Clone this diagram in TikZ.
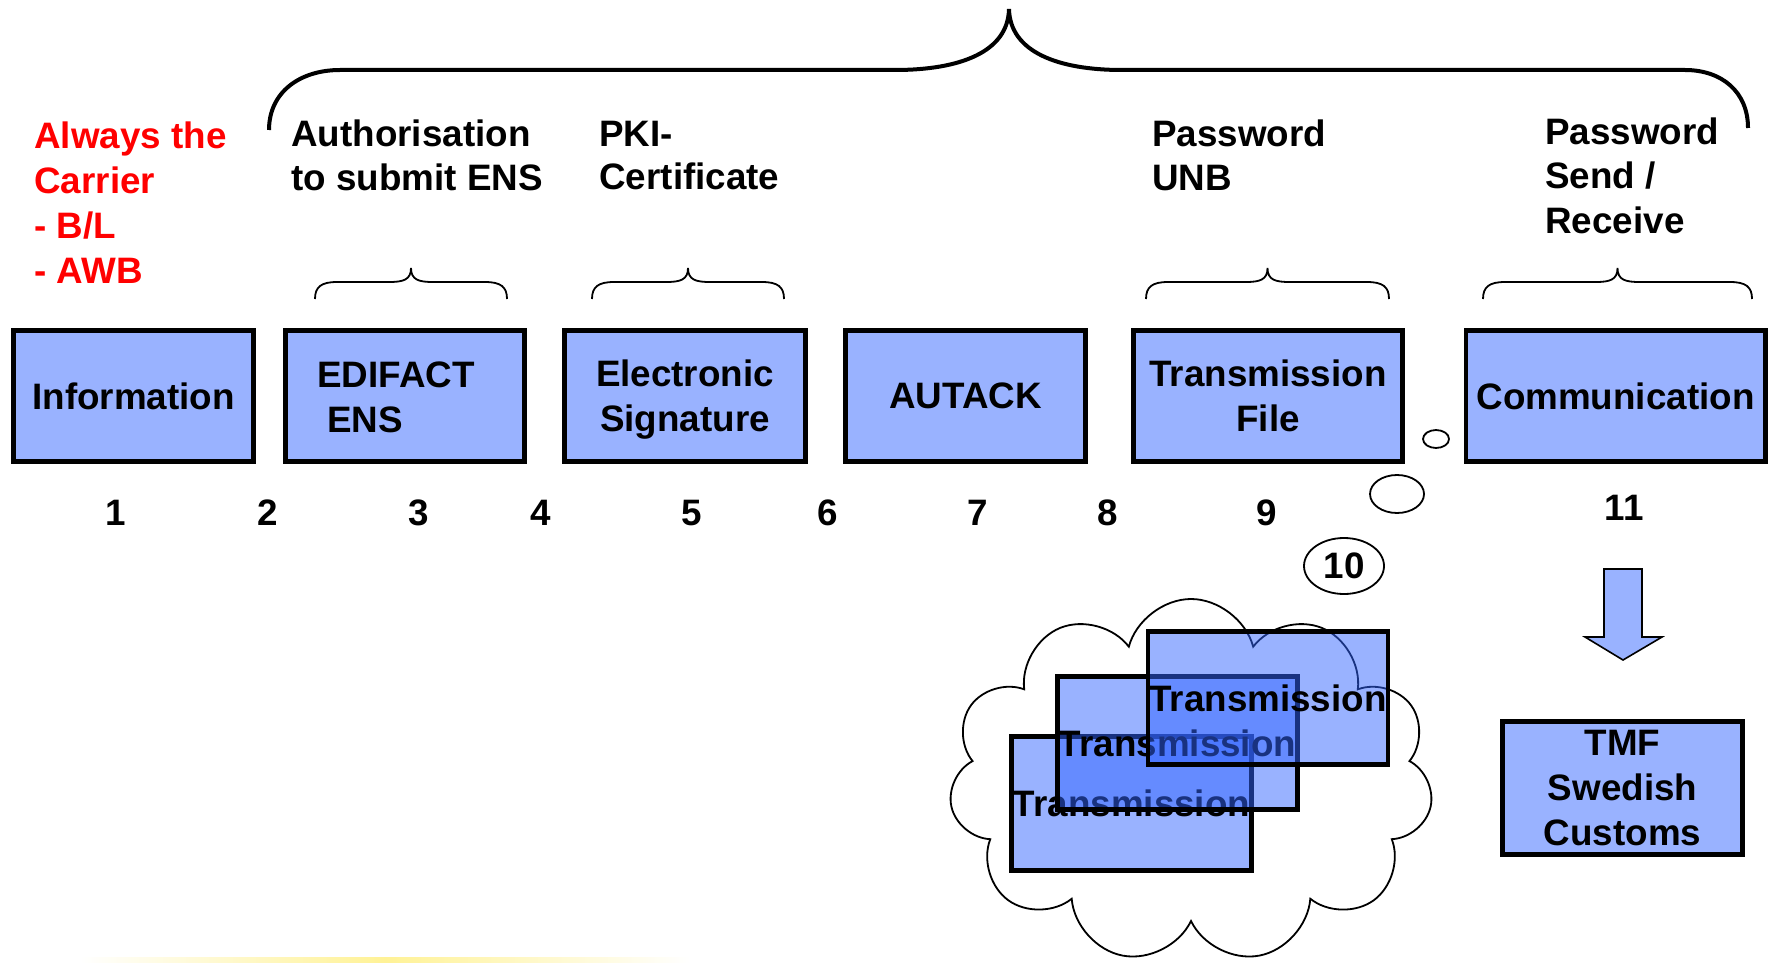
\documentclass[tikz,border=0pt]{standalone}
\usepackage{fontspec}
\setmainfont{Liberation Sans}
\usetikzlibrary{shapes.symbols,shapes.geometric}
\definecolor{boxblue}{RGB}{153,178,255}
\definecolor{transblue}{RGB}{51,101,255}
\definecolor{pptred}{RGB}{255,0,0}
\definecolor{softyellow}{RGB}{255,242,150}
\begin{document}
\begin{tikzpicture}[x=0.5pt,y=-0.5pt,
  every node/.style={font=\fontsize{18.4}{22.5}\selectfont\bfseries, inner sep=0pt},
  stepbox/.style={draw=black, line width=2.3pt, fill=boxblue, minimum height=65.75pt, align=center},
  tbox/.style={draw=black, line width=2.3pt, fill=transblue, fill opacity=0.5, draw opacity=1, text opacity=1, minimum width=120pt, minimum height=66.75pt},
  toplabel/.style={anchor=west, align=left, font=\fontsize{18.4}{21.7}\selectfont\bfseries},
  numlabel/.style={anchor=center},
  bigbrace/.style={line width=2pt},
  thinbrace/.style={line width=0.9pt},
  bubble/.style={draw=black, line width=0.9pt, ellipse},
]
\useasboundingbox (0,0) rectangle (1771,963);

% faint yellow line at bottom
\shade[left color=white, right color=white, middle color=softyellow] (80,957) rectangle (690,963);

% big brace
\draw[bigbrace] (269,130) .. controls (269,92) and (300,70) .. (340,70) -- (895,70)
  .. controls (960,70) and (1008,52) .. (1009,9)
  .. controls (1010,52) and (1058,70) .. (1122,70) -- (1685,70)
  .. controls (1722,70) and (1748,92) .. (1748,128);

% small braces
\foreach \l/\r in {315/507, 592/784, 1146/1389, 1483/1752} {
  \pgfmathsetmacro\m{(\l+\r)/2}
  \draw[thinbrace] (\l,299) .. controls (\l,287) and (\l+6,282) .. (\l+22,282) -- (\m-22,282)
    .. controls (\m-8,282) and (\m,280) .. (\m,268)
    .. controls (\m,280) and (\m+8,282) .. (\m+22,282) -- (\r-22,282)
    .. controls (\r-6,282) and (\r,287) .. (\r,299);
}

% red text
\node[toplabel, text=pptred, font=\fontsize{18.4}{22.5}\selectfont\bfseries] (carrier) at (34,203) {Always the\\Carrier\\- B/L\\- AWB};

% top labels
\node[toplabel] (auth) at (291,155.5) {Authorisation\\to submit ENS};
\node[toplabel] (pki) at (599,155.5) {PKI-\\Certificate};
\node[toplabel] (pwunb) at (1152,155.5) {Password\\UNB};
\node[toplabel, font=\fontsize{18.4}{22.3}\selectfont\bfseries] (pwsend) at (1545,175.5) {Password\\Send /\\Receive};

% step boxes
\node[stepbox, minimum width=120.2pt] (info) at (133.5,396) {Information};
\node[stepbox, minimum width=119.7pt] (edi) at (405,396) {};
\node[anchor=west, align=left] (editext) at (317,397) {EDIFACT\\\hspace*{5pt}ENS};
\node[stepbox, minimum width=120.7pt] (esig) at (685,396) {};
\node[align=center] (esigtext) at (685,399.5) {Electronic\\Signature};
\node[stepbox, minimum width=120.2pt] (autack) at (965.5,396) {AUTACK};
\node[stepbox, minimum width=134.7pt] (tfile) at (1268,396) {Transmission\\File};
\node[stepbox, minimum width=149.7pt] (comm) at (1615.5,396) {Communication};

% numbers
\node[numlabel] (n1) at (116,513) {1};
\node[numlabel] (n2) at (268,513) {2};
\node[numlabel] (n3) at (419,513) {3};
\node[numlabel] (n4) at (541,513) {4};
\node[numlabel] (n5) at (692,513) {5};
\node[numlabel] (n6) at (828,513) {6};
\node[numlabel] (n7) at (978,513) {7};
\node[numlabel] (n8) at (1108,513) {8};
\node[numlabel] (n9) at (1267,513) {9};
\node[numlabel] (n11) at (1624,508) {11};

% thought bubbles
\node[bubble, minimum width=13pt, minimum height=9pt] (bub1) at (1436,439) {};
\node[bubble, minimum width=27pt, minimum height=19pt] (bub2) at (1397,494) {};
\node[bubble, minimum width=40pt, minimum height=28pt] (ten) at (1344,566) {10};

% cloud
\node[cloud, draw=black, line width=0.9pt, cloud puffs=11, cloud puff arc=150, cloud ignores aspect,
      minimum width=242pt, minimum height=182pt] (cloud) at (1191,781) {};

% transmission stack
\node[tbox] (tr1) at (1131.5,803.5) {Transmission};
\node[tbox] (tr2) at (1177.5,743) {Transmission};
\node[tbox] (tr3) at (1268,698) {Transmission};

% block arrow
\draw[fill=boxblue, draw=black, line width=0.8pt] (1604,569) -- (1642,569) -- (1642,637) -- (1662,637)
  -- (1623,660) -- (1585,637) -- (1604,637) -- cycle;

% TMF box
\node[stepbox, minimum width=120pt, minimum height=66.25pt] (tmf) at (1622.5,788) {TMF\\Swedish\\Customs};
\end{tikzpicture}
\end{document}
